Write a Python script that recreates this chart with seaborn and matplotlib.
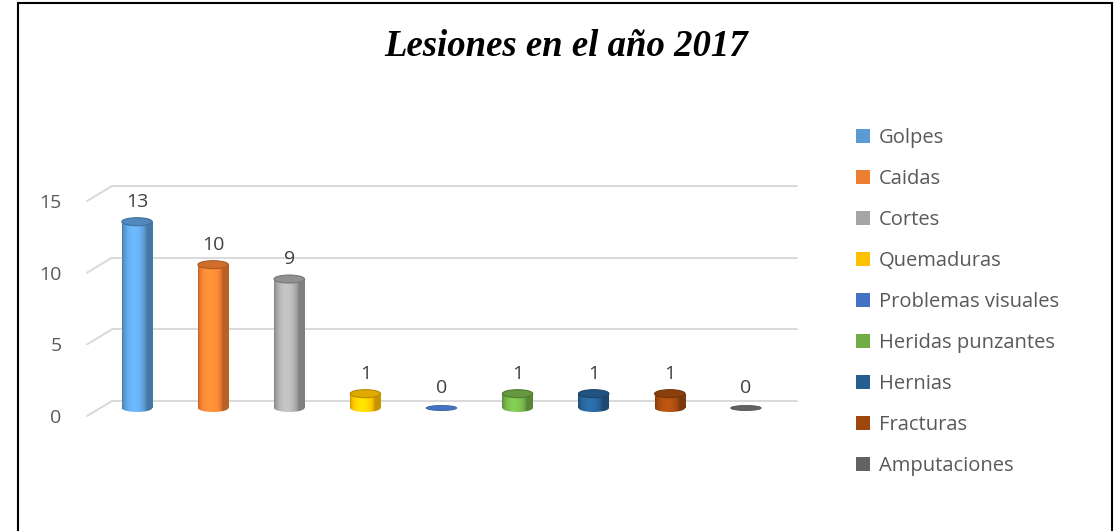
import numpy as np
import pandas as pd
import matplotlib
matplotlib.use("Agg")
import matplotlib.pyplot as plt
import seaborn as sns
from matplotlib.patches import Ellipse, Rectangle, Patch
from matplotlib.colors import to_rgb
from matplotlib.transforms import ScaledTranslation

# ---- data ----
categories = ["Golpes", "Caidas", "Cortes", "Quemaduras", "Problemas visuales",
              "Heridas punzantes", "Hernias", "Fracturas", "Amputaciones"]
values = [13, 10, 9, 1, 0, 1, 1, 1, 0]
colors = ["#5B9BD5", "#ED7D31", "#A5A5A5", "#FFC000", "#4472C4",
          "#70AD47", "#255E91", "#9E480E", "#636363"]
yticks = [0, 5, 10, 15]
title = "Lesiones en el año 2017"

sns.set_theme(style="white")
plt.rcParams["font.family"] = ["Open Sans", "DejaVu Sans"]

W, H = 1115, 531
PXY = 14.33          # pixels per y unit
YMIN = -0.5
fig = plt.figure(figsize=(W / 100, H / 100), dpi=100)
bottom_px = 408 - YMIN * PXY
ax = fig.add_axes([99 / W, (H - bottom_px) / H, 685 / W, (15 - YMIN) * PXY / H])

df = pd.DataFrame({"cat": categories, "val": values})
sns.barplot(data=df, x="cat", y="val", hue="cat", order=categories,
            hue_order=categories, palette=colors, width=0.4, dodge=False,
            saturation=1, legend=False, ax=ax, zorder=2)

ax.set_xlim(-0.5, 8.5)
ax.set_ylim(YMIN, 15)
for s in ax.spines.values():
    s.set_visible(False)
ax.grid(False)
ax.set_xlabel("")
ax.set_ylabel("")
ax.set_xticks([])

# pixel -> data unit conversions
px_x = 1 / 76.1
px_y = 1 / PXY
back_dx, back_dy = 13 * px_x, 7 * px_y
front_dx, front_dy = -12 * px_x, -8 * px_y

# 3D-style gridlines (back wall + floor diagonal)
for v in yticks:
    ax.plot([-0.5 + back_dx, 8.5 + back_dx], [v + back_dy, v + back_dy],
            color="#D9D9D9", lw=1.4, zorder=0, clip_on=False)
    ax.plot([-0.5 + front_dx, -0.5 + back_dx], [v + front_dy, v + back_dy],
            color="#D9D9D9", lw=1.4, zorder=0, clip_on=False)

ax.set_yticks(yticks)
ax.set_yticklabels([str(t) for t in yticks])
ax.tick_params(axis="y", length=0, pad=27, labelsize=14, labelcolor="#595959")
for lab in ax.get_yticklabels():
    lab.set_transform(lab.get_transform() + ScaledTranslation(0, -0.08, fig.dpi_scale_trans))

# cylinder shading
t = np.linspace(0, 1, 80)
shade = 0.78 + 0.42 * np.sin(np.pi * np.clip(t * 1.25, 0, 1)) ** 0.6
eh = 8 * px_y
bars = [p for p in ax.patches if isinstance(p, Rectangle)]
for p, col in zip(bars, colors):
    x, w, h = p.get_x(), p.get_width(), p.get_height()
    base = np.array(to_rgb(col))
    grad = np.clip(base[None, :] * shade[:, None], 0, 1)[None, :, :]
    cx = x + w / 2
    p.set_facecolor("none")
    p.set_edgecolor("none")
    if h > 0:
        img = ax.imshow(grad, extent=(x, x + w, 0, h), aspect="auto",
                        origin="lower", zorder=2, interpolation="bilinear")
        img.set_clip_path(p)
        bot = Ellipse((cx, 0), w, eh, facecolor="none", edgecolor="none", zorder=2)
        ax.add_patch(bot)
        img2 = ax.imshow(grad, extent=(x, x + w, -eh / 2, 0), aspect="auto",
                         origin="lower", zorder=2, interpolation="bilinear")
        img2.set_clip_path(bot)
        top = Ellipse((cx, h), w, eh, facecolor=np.clip(base * 0.88, 0, 1),
                      edgecolor=np.clip(base * 0.72, 0, 1), lw=0.8, zorder=3,
                      clip_on=False)
        ax.add_patch(top)
    else:
        flat = Ellipse((cx, 0), w, 5 * px_y, facecolor=base,
                       edgecolor=np.clip(base * 0.8, 0, 1), lw=0.6, zorder=3,
                       clip_on=False)
        ax.add_patch(flat)

ax.set_xlim(-0.5, 8.5)
ax.set_ylim(YMIN, 15)

for cont in ax.containers:
    ax.bar_label(cont, padding=8, fontsize=14, color="#404040")

fig.text(566 / W, 1 - 47 / H, title, ha="center", va="center",
         family="Liberation Serif", weight="bold", style="italic", size=26.5,
         color="black")

handles = [Patch(facecolor=c, edgecolor="none") for c in colors]
fig.legend(handles, categories, loc="upper left",
           bbox_to_anchor=(848 / W, 1 - 120 / H), frameon=False, fontsize=14.5,
           handlelength=0.7, handleheight=0.7, handletextpad=0.45,
           labelspacing=1.04, labelcolor="#595959", borderaxespad=0)

fig.add_artist(Rectangle((18 / W, -0.02), (1112 - 18) / W, 1 - 3 / H + 0.02,
                         fill=False, edgecolor="black", lw=1.5,
                         transform=fig.transFigure))

fig.savefig("out.png", dpi=100)
